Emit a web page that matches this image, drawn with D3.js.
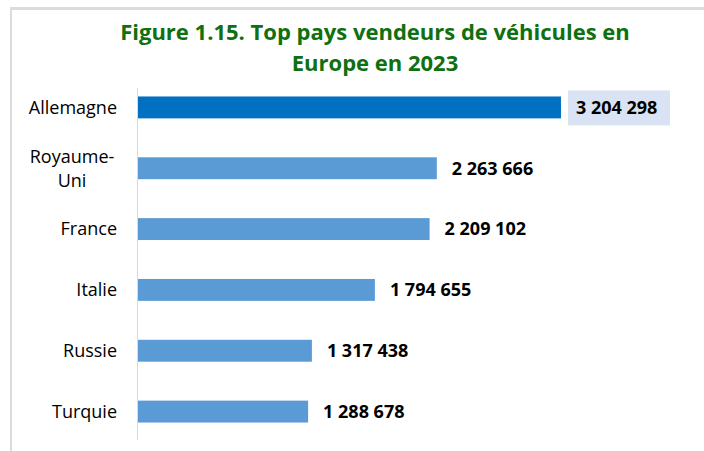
<!DOCTYPE html>
<html>
<head>
<meta charset="utf-8">
<script src="https://cdn.jsdelivr.net/npm/d3@7"></script>
<style>
  body { margin: 0; background: #fff; }
  svg { display: block; font-family: "Open Sans", "Noto Sans", sans-serif; }
</style>
</head>
<body>
<svg id="chart" width="704" height="451"></svg>
<script>
// ------------------ DATA ------------------
const countries = ["Allemagne", "Royaume-Uni", "France", "Italie", "Russie", "Turquie"];
const sales = [3204298, 2263666, 2209102, 1794655, 1317438, 1288678];
const labelLines = [["Allemagne"], ["Royaume-", "Uni"], ["France"], ["Italie"], ["Russie"], ["Turquie"]];
const titleLines = ["Figure 1.15. Top pays vendeurs de véhicules en", "Europe en 2023"];

let svg = d3.select("#chart");

// page frame (light grey rules like in the document)
svg.append("rect").attr("x", 10).attr("y", 7).attr("width", 694).attr("height", 3).attr("fill", "#dcdcdc");
svg.append("rect").attr("x", 10).attr("y", 7).attr("width", 2).attr("height", 444).attr("fill", "#dcdcdc");

// title
svg.append("g")
    .selectAll("text")
    .data(titleLines)
    .enter().append("text")
    .attr("x", 375)
    .attr("y", (d, i) => 40 + i * 31)
    .attr("text-anchor", "middle")
    .attr("font-size", 22)
    .attr("font-weight", "bold")
    .attr("fill", "#0e700e")
    .text(d => d);

// scales
let x = d3.scaleLinear().domain([0, 3500000]).range([138, 600]);
let y = d3.scaleBand().domain(countries).range([77, 442]).paddingInner(0.64).paddingOuter(0.32);

// axis line
svg.append("line")
    .attr("x1", 137.5).attr("x2", 137.5)
    .attr("y1", 88).attr("y2", 440)
    .attr("stroke", "#d9d9d9").attr("stroke-width", 1);

// bars
svg.append("g")
    .selectAll("rect")
    .data(countries)
    .enter().append("rect")
    .attr("x", x(0))
    .attr("y", d => y(d))
    .attr("width", (d, i) => x(sales[i]) - x(0))
    .attr("height", y.bandwidth())
    .attr("fill", (d, i) => i == 0 ? "#0070c0" : "#5b9bd5");

// value labels
const fmt = v => d3.format(",")(v).replace(/,/g, " ");

let labels = svg.append("g")
    .selectAll("g")
    .data(countries)
    .enter().append("g");

labels.filter((d, i) => i == 0).append("rect")
    .attr("x", x(sales[0]) + 7)
    .attr("y", d => y(d) + y.bandwidth() / 2 - 17)
    .attr("width", 102)
    .attr("height", 35)
    .attr("fill", "#dae3f3");

labels.append("text")
    .attr("x", (d, i) => x(sales[i]) + 15)
    .attr("y", d => y(d) + y.bandwidth() / 2)
    .attr("dy", "0.35em")
    .attr("font-size", 18)
    .attr("font-weight", "bold")
    .attr("fill", "#000")
    .text((d, i) => fmt(sales[i]));

// category labels
let cats = svg.append("g")
    .selectAll("text")
    .data(countries)
    .enter().append("text")
    .attr("font-size", 18)
    .attr("fill", "#000")
    .attr("text-anchor", "end");

cats.each(function (d, i) {
    let lines = labelLines[i];
    let cy = y(d) + y.bandwidth() / 2;
    let t = d3.select(this);
    if (lines.length == 1) {
        t.append("tspan").attr("x", 117).attr("y", cy).attr("dy", "0.35em").text(lines[0]);
    } else {
        // two-line label, centred like Excel does it
        t.attr("text-anchor", "middle");
        lines.forEach((l, j) => {
            t.append("tspan").attr("x", 72).attr("y", cy - 5 + j * 24).text(l);
        });
    }
});
</script>
</body>
</html>
